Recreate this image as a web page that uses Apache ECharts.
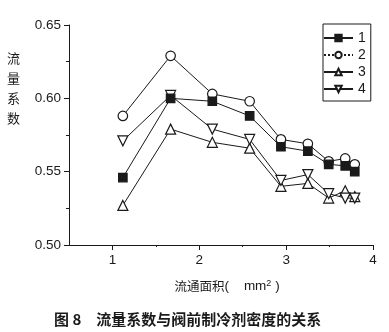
<!DOCTYPE html>
<html>
<head>
<meta charset="utf-8">
<script src="https://cdn.jsdelivr.net/npm/echarts@6/dist/echarts.min.js"></script>
<style>
  html, body { margin: 0; padding: 0; background: #fff; }
  #chart { width: 389px; height: 332px; }
</style>
</head>
<body>
<div id="chart"></div>
<script>
// Flow area (mm²) at each measurement
const flowArea = [1.12, 1.67, 2.15, 2.58, 2.94, 3.25, 3.49, 3.68, 3.79];

// Flow coefficient for each refrigerant density case
const case1 = [0.546, 0.600, 0.598, 0.588, 0.567, 0.564, 0.555, 0.554, 0.550];
const case2 = [0.588, 0.629, 0.603, 0.598, 0.572, 0.569, 0.557, 0.559, 0.555];
const case3 = [0.527, 0.579, 0.570, 0.566, 0.540, 0.542, 0.532, 0.537, 0.533];
const case4 = [0.571, 0.602, 0.579, 0.572, 0.544, 0.548, 0.535, 0.532, 0.532];

const seriesNames = ['1', '2', '3', '4'];
const xTickLabels = [1, 2, 3, 4];
const xHalfTicks = [1.5, 2.5, 3.5];

const FONT = '"Liberation Sans", Arial, sans-serif';
const CJK = '"Noto Sans CJK SC", sans-serif';
const INK = '#1a1a1a';

const pairs = ys => flowArea.map((x, i) => [x, ys[i]]);

const downTri = 'path://M0,0L10,0L5,9Z';

function lineSeries(name, ys, symbol, size, filled) {
  return {
    name: name,
    type: 'line',
    data: pairs(ys),
    symbol: symbol,
    symbolSize: size,
    showSymbol: true,
    lineStyle: { color: INK, width: 1 },
    itemStyle: {
      color: filled ? INK : '#fff',
      borderColor: INK,
      borderWidth: 1.2
    },
    emphasis: { disabled: true },
    animation: false
  };
}

const chart = echarts.init(document.getElementById('chart'), null, { renderer: 'canvas' });

chart.setOption({
  backgroundColor: '#fff',
  animation: false,
  grid: { left: 69, right: 16, top: 25, bottom: 87, containLabel: false },
  xAxis: [
    {
      type: 'value',
      min: 0.5,
      max: 4,
      interval: 0.5,
      axisLine: { show: true, lineStyle: { color: INK, width: 1 } },
      axisTick: { show: true, length: 5, customValues: xTickLabels, lineStyle: { color: INK } },
      axisLabel: {
        show: true, margin: 8, customValues: xTickLabels,
        color: INK, fontFamily: FONT, fontSize: 13.5
      },
      splitLine: { show: false },
      name: '{c|流通面积}{l|(    mm}{s|2}{l| )}',
      nameLocation: 'middle',
      nameGap: 34,
      nameTextStyle: {
        color: INK,
        padding: [0, 0, 0, 12],
        rich: {
          c: { fontFamily: CJK, fontSize: 12.5, color: INK },
          l: { fontFamily: FONT, fontSize: 13.5, color: INK },
          s: { fontFamily: FONT, fontSize: 9, color: INK, verticalAlign: 'top', padding: [0, 0, 5, 0] }
        }
      }
    },
    {
      type: 'value',
      min: 0.5,
      max: 4,
      interval: 0.5,
      position: 'bottom',
      axisLine: { show: false },
      axisTick: { show: true, length: 2, customValues: xHalfTicks, lineStyle: { color: INK } },
      axisLabel: { show: false },
      splitLine: { show: false }
    }
  ],
  yAxis: {
    type: 'value',
    min: 0.5,
    max: 0.65,
    interval: 0.05,
    axisLine: { show: true, lineStyle: { color: INK, width: 1 } },
    axisTick: { show: true, length: 5, lineStyle: { color: INK } },
    minorTick: { show: true, splitNumber: 2, length: 3, lineStyle: { color: INK } },
    axisLabel: {
      margin: 8, color: INK, fontFamily: FONT, fontSize: 13.5,
      formatter: v => v.toFixed(2)
    },
    splitLine: { show: false }
  },
  legend: {
    left: 323,
    top: 24,
    orient: 'vertical',
    data: [
      { name: '1' },
      { name: '2', lineStyle: { type: 'dotted' } },
      { name: '3' },
      { name: '4' }
    ],
    itemWidth: 29,
    itemHeight: 8,
    itemGap: 3,
    padding: [7, 5, 5, 0],
    borderColor: INK,
    borderWidth: 1,
    selectedMode: false,
    textStyle: { color: INK, fontFamily: FONT, fontSize: 14 }
  },
  series: [
    lineSeries(seriesNames[1], case2, 'circle', 9.5, false),
    lineSeries(seriesNames[2], case3, 'triangle', 10, false),
    lineSeries(seriesNames[3], case4, downTri, 10, false),
    lineSeries(seriesNames[0], case1, 'rect', 8.5, true)
  ],
  graphic: [
    {
      type: 'text',
      left: 7,
      top: 48,
      style: {
        text: '流\n量\n系\n数',
        fill: INK,
        fontFamily: CJK,
        fontSize: 13,
        lineHeight: 20
      }
    },
    {
      type: 'text',
      left: 54,
      top: 312,
      style: {
        text: '图 8\u3000流量系数与阀前制冷剂密度的关系',
        fill: INK,
        fontFamily: CJK,
        fontSize: 15,
        fontWeight: 'bold'
      }
    }
  ]
});
</script>
</body>
</html>
